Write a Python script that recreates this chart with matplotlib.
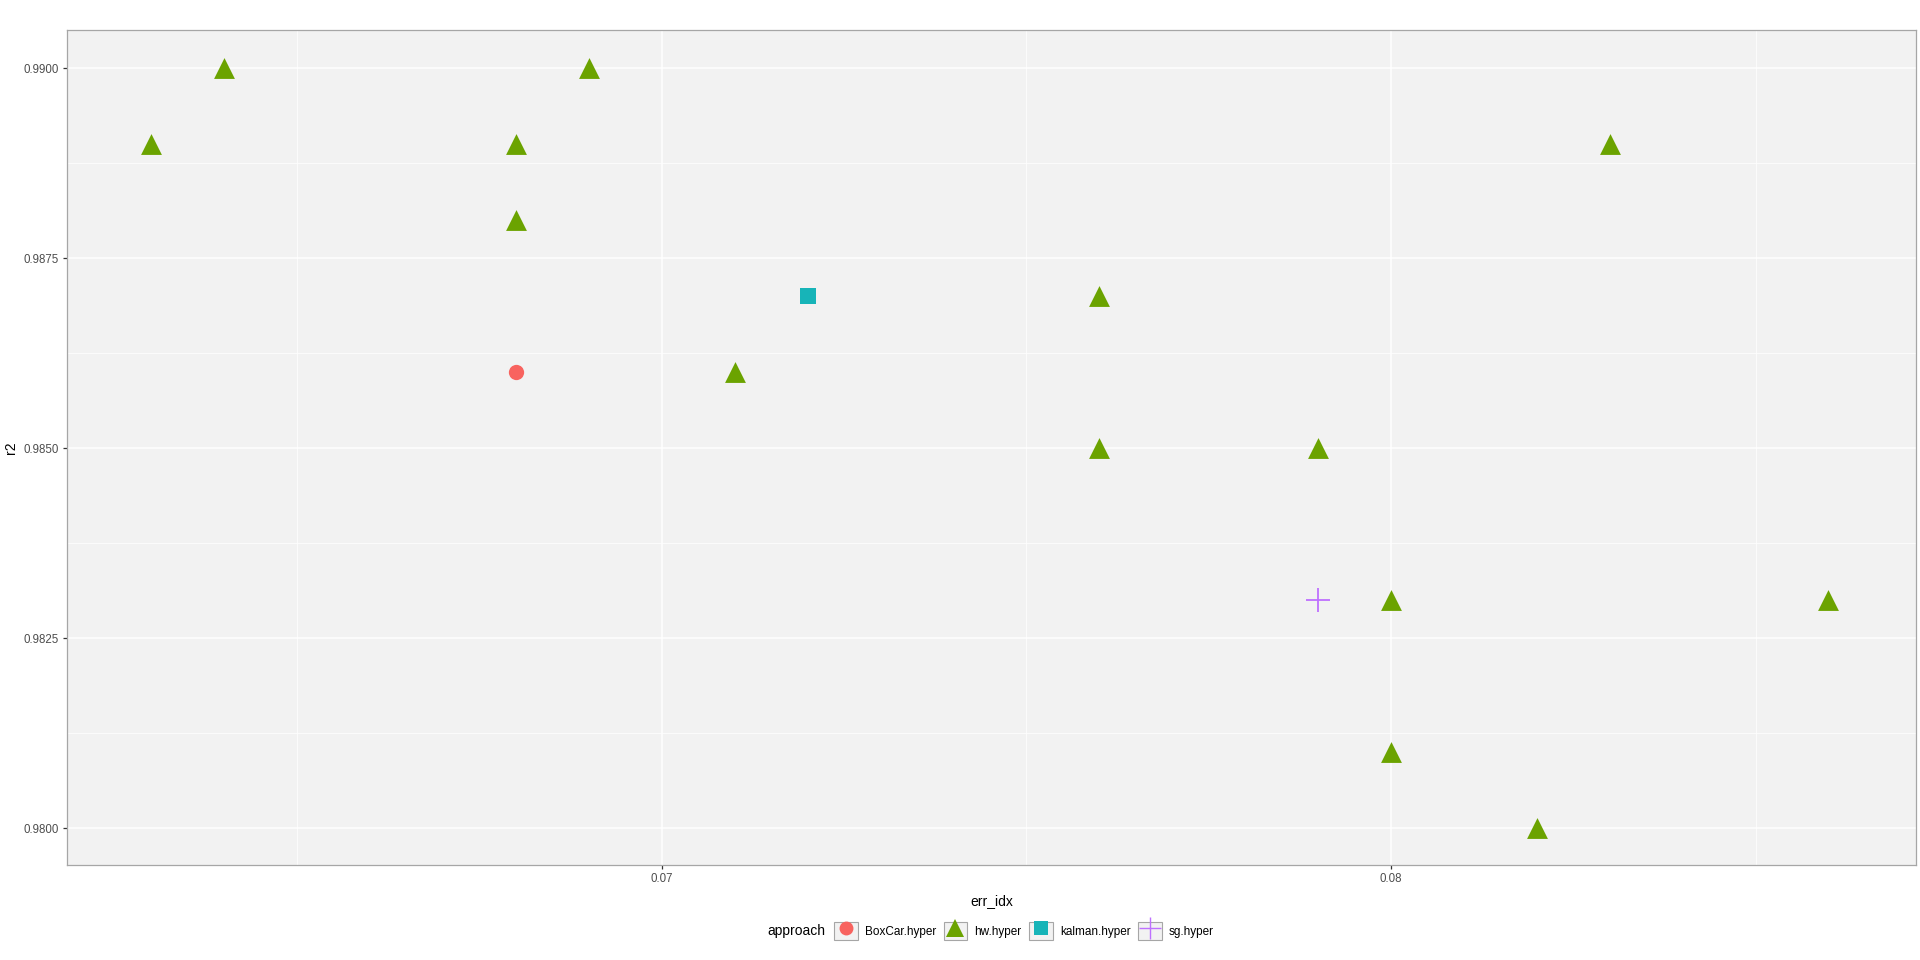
import matplotlib
matplotlib.use("Agg")
import matplotlib.pyplot as plt
from matplotlib.lines import Line2D
from matplotlib.patches import Rectangle
from matplotlib.legend_handler import HandlerTuple
from matplotlib.ticker import FixedLocator

plt.rcParams['font.family'] = ['Liberation Sans', 'DejaVu Sans']

# data
approaches = ['BoxCar.hyper', 'hw.hyper', 'kalman.hyper', 'sg.hyper']

boxcar_err = [0.068]
boxcar_r2 = [0.986]

hw_err = [0.063, 0.064, 0.068, 0.068, 0.069, 0.071, 0.076, 0.076,
          0.079, 0.080, 0.080, 0.082, 0.083, 0.086]
hw_r2 = [0.989, 0.990, 0.989, 0.988, 0.990, 0.986, 0.987, 0.985,
         0.985, 0.983, 0.981, 0.980, 0.989, 0.983]

kalman_err = [0.072]
kalman_r2 = [0.987]

sg_err = [0.079]
sg_r2 = [0.983]

colors = ['#F8635F', '#6BA300', '#17B4B8', '#BE70FF']

fig = plt.figure(figsize=(19.2, 9.6), dpi=100)
ax = fig.add_axes([67 / 1920, 1 - 865 / 960, (1916 - 67) / 1920, (865 - 30) / 960])
ax.set_facecolor('#F2F2F2')
for s in ax.spines.values():
    s.set_color('#A6A6A6')
    s.set_linewidth(0.9)

ax.set_xlim(0.061845, 0.0872)
ax.set_ylim(0.979514, 0.99050)

ax.xaxis.set_major_locator(FixedLocator([0.07, 0.08]))
ax.xaxis.set_minor_locator(FixedLocator([0.065, 0.075, 0.085]))
ax.yaxis.set_major_locator(FixedLocator([0.98, 0.9825, 0.985, 0.9875, 0.99]))
ax.yaxis.set_minor_locator(FixedLocator([0.98125, 0.98375, 0.98625, 0.98875]))
ax.set_xticklabels(['0.07', '0.08'])
ax.set_yticklabels(['0.9800', '0.9825', '0.9850', '0.9875', '0.9900'])
ax.grid(which='major', color='white', linewidth=1.1)
ax.grid(which='minor', color='white', linewidth=0.5)
ax.set_axisbelow(True)
ax.tick_params(which='major', length=3, width=0.9, color='#333333',
               labelsize=8.3, labelcolor='#4D4D4D', pad=3)
ax.tick_params(which='minor', length=0)

ax.scatter(boxcar_err, boxcar_r2, marker='o', s=11 ** 2, color=colors[0],
           linewidths=0, zorder=3)
ax.scatter(hw_err, hw_r2, marker='^', s=15 ** 2, color=colors[1],
           linewidths=0, zorder=3)
ax.scatter(kalman_err, kalman_r2, marker='s', s=11 ** 2, color=colors[2],
           linewidths=0, zorder=3)
ax.scatter(sg_err, sg_r2, marker='+', s=17 ** 2, color=colors[3],
           linewidths=1.3, zorder=3)

ax.set_xlabel('err_idx', fontsize=10, labelpad=6)
ax.set_ylabel('r2', fontsize=10, labelpad=4)

# legend along the bottom with grey key boxes
markers = ['o', '^', 's', '+']
msizes = [10, 13, 10, 16]
handles = []
for c, m, ms in zip(colors, markers, msizes):
    box = Rectangle((0, 0), 1, 1, facecolor='#F2F2F2', edgecolor='#A6A6A6', linewidth=0.8)
    mk = Line2D([], [], marker=m, linestyle='none', color=c, markersize=ms,
                markeredgewidth=1.0 if m == '+' else 0)
    handles.append((box, mk))

fig.text(767 / 1920, 1 - 931 / 960, 'approach', fontsize=10, va='center', ha='left')
fig.legend(handles, approaches, loc='center left',
           bbox_to_anchor=(834 / 1920, 1 - 931 / 960), ncol=4, frameon=False,
           fontsize=8.5, handlelength=2.0, handleheight=2.0, handletextpad=0.6,
           columnspacing=0.65, borderpad=0, borderaxespad=0,
           handler_map={tuple: HandlerTuple(ndivide=1, pad=0)})

fig.savefig('out.png', dpi=100)
